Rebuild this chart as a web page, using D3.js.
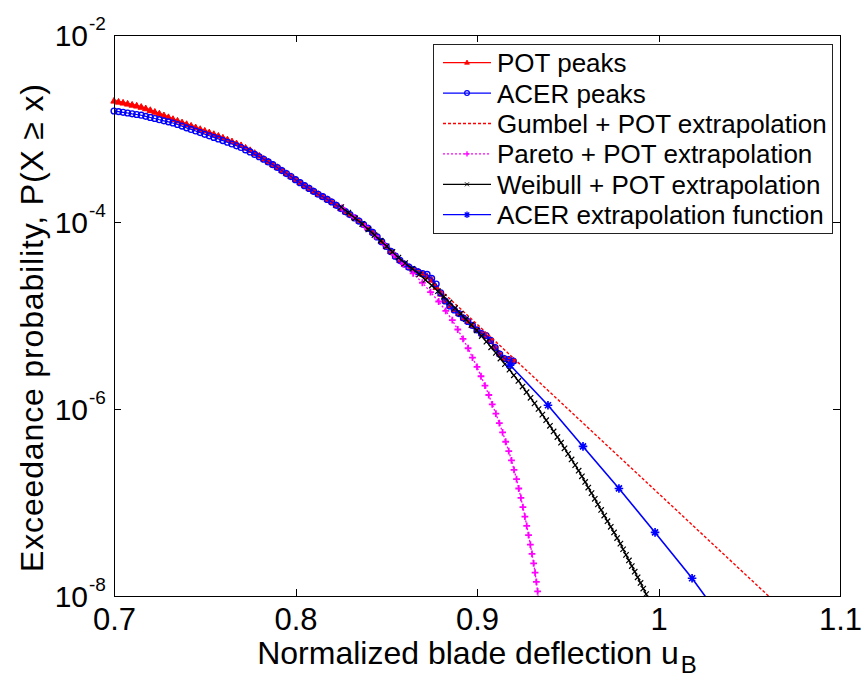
<!DOCTYPE html>
<html>
<head>
<meta charset="utf-8">
<script src="https://d3js.org/d3.v7.min.js"></script>
<style>
  body { margin: 0; background: #fff; }
  svg text { font-family: "Liberation Sans", Arial, Helvetica, sans-serif; fill: #000; }
  .axis path, .axis line { fill: none; stroke: #000; shape-rendering: crispEdges; }
</style>
</head>
<body>
<script>
// ---- data (probabilities stored as log10 values) ----
var uPeaks = [0.7000,0.7025,0.7050,0.7075,0.7100,0.7125,0.7150,0.7175,0.7200,0.7225,
  0.7250,0.7275,0.7300,0.7325,0.7350,0.7375,0.7400,0.7425,0.7450,0.7475,
  0.7500,0.7525,0.7550,0.7575,0.7600,0.7625,0.7650,0.7675,0.7700,0.7725,
  0.7750,0.7775,0.7800,0.7825,0.7850,0.7875,0.7900,0.7925,0.7950,0.7975,
  0.8000,0.8025,0.8050,0.8075,0.8100,0.8125,0.8150,0.8175,0.8200,0.8225,
  0.8250,0.8275,0.8300,0.8325,0.8350,0.8375,0.8400,0.8425,0.8450,0.8475,
  0.8500,0.8525,0.8550,0.8575,0.8600,0.8625,0.8650,0.8675,0.8700,0.8725,
  0.8750,0.8775,0.8800,0.8825,0.8850,0.8875,0.8900,0.8925,0.8950,0.8975,
  0.9000,0.9025,0.9050,0.9075,0.9100,0.9125,0.9150,0.9175,0.9200];

var potLog = [-2.706,-2.717,-2.727,-2.738,-2.749,-2.759,-2.772,-2.788,-2.806,-2.825,
  -2.843,-2.862,-2.882,-2.902,-2.920,-2.938,-2.956,-2.973,-2.991,-3.009,
  -3.027,-3.045,-3.063,-3.081,-3.101,-3.121,-3.141,-3.162,-3.182,-3.209,
  -3.235,-3.265,-3.294,-3.327,-3.357,-3.386,-3.416,-3.449,-3.481,-3.513,
  -3.547,-3.579,-3.611,-3.641,-3.672,-3.703,-3.729,-3.759,-3.786,-3.822,
  -3.856,-3.890,-3.921,-3.955,-3.990,-4.028,-4.068,-4.112,-4.160,-4.210,
  -4.262,-4.315,-4.365,-4.410,-4.450,-4.483,-4.510,-4.533,-4.558,-4.585,
  -4.620,-4.700,-4.770,-4.845,-4.898,-4.941,-4.979,-5.027,-5.064,-5.107,
  -5.155,-5.193,-5.225,-5.267,-5.342,-5.412,-5.460,-5.471,-5.487];

var acerLog = [-2.813,-2.819,-2.827,-2.834,-2.843,-2.850,-2.858,-2.870,-2.882,-2.893,
  -2.906,-2.918,-2.929,-2.941,-2.957,-2.974,-2.993,-3.010,-3.027,-3.044,
  -3.062,-3.078,-3.095,-3.112,-3.129,-3.147,-3.166,-3.185,-3.203,-3.229,
  -3.251,-3.277,-3.302,-3.329,-3.358,-3.387,-3.417,-3.450,-3.482,-3.514,
  -3.547,-3.579,-3.611,-3.641,-3.672,-3.703,-3.729,-3.759,-3.786,-3.822,
  -3.856,-3.890,-3.921,-3.955,-3.990,-4.028,-4.068,-4.112,-4.160,-4.210,
  -4.262,-4.315,-4.365,-4.410,-4.450,-4.483,-4.510,-4.533,-4.551,-4.561,
  -4.604,-4.663,-4.759,-4.845,-4.898,-4.941,-4.979,-5.027,-5.064,-5.107,
  -5.155,-5.193,-5.214,-5.267,-5.342,-5.412,-5.460,-5.471,-5.487];

var gumbelU = [0.87,0.88,0.89,0.90,0.91,0.92,0.93,0.94,0.95,0.96,0.97,
  0.98,0.99,1.00,1.01,1.02,1.03,1.04,1.05,1.06,1.07];
var gumbelLog = [-4.550,-4.731,-4.912,-5.093,-5.274,-5.455,-5.636,-5.817,-5.998,-6.179,-6.360,
  -6.541,-6.722,-6.903,-7.084,-7.265,-7.446,-7.627,-7.808,-7.989,-8.170];

var paretoU = [0.8257,0.8323,0.8384,0.8441,0.8494,0.8543,0.8593,0.8648,0.8699,0.8744,
  0.8789,0.8828,0.8864,0.8894,0.8923,0.8951,0.8975,0.9000,0.9022,0.9044,
  0.9065,0.9084,0.9104,0.9123,0.9141,0.9158,0.9175,0.9190,0.9204,0.9218,
  0.9230,0.9242,0.9253,0.9264,0.9274,0.9284,0.9294,0.9303,0.9312,0.9320,
  0.9327,0.9334,0.9339];
var paretoLog = [-3.85,-3.95,-4.05,-4.15,-4.25,-4.35,-4.45,-4.55,-4.65,-4.75,
  -4.85,-4.95,-5.05,-5.15,-5.25,-5.35,-5.45,-5.55,-5.65,-5.75,
  -5.85,-5.95,-6.05,-6.15,-6.25,-6.35,-6.45,-6.55,-6.65,-6.75,
  -6.85,-6.95,-7.05,-7.15,-7.25,-7.35,-7.45,-7.55,-7.65,-7.75,
  -7.85,-7.95,-8.05];

var weibullU = [0.8252,0.8291,0.8329,0.8367,0.8401,0.8435,0.8469,0.8502,0.8534,0.8567,
  0.8604,0.8643,0.8682,0.8716,0.8751,0.8785,0.8817,0.8848,0.8879,0.8910,
  0.8939,0.8969,0.8998,0.9026,0.9052,0.9078,0.9104,0.9129,0.9154,0.9179,
  0.9203,0.9228,0.9251,0.9273,0.9295,0.9317,0.9339,0.9360,0.9381,0.9402,
  0.9422,0.9443,0.9463,0.9482,0.9502,0.9521,0.9541,0.9560,0.9578,0.9596,
  0.9613,0.9631,0.9649,0.9666,0.9684,0.9701,0.9719,0.9737,0.9755,0.9772,
  0.9790,0.9805,0.9821,0.9837,0.9853,0.9869,0.9885,0.9901,0.9916,0.9932,
  0.9948];
var weibullLog = [-3.84,-3.90,-3.96,-4.02,-4.08,-4.14,-4.20,-4.26,-4.32,-4.38,
  -4.44,-4.50,-4.56,-4.62,-4.68,-4.74,-4.80,-4.86,-4.92,-4.98,
  -5.04,-5.10,-5.16,-5.22,-5.28,-5.34,-5.40,-5.46,-5.52,-5.58,
  -5.64,-5.70,-5.76,-5.82,-5.88,-5.94,-6.00,-6.06,-6.12,-6.18,
  -6.24,-6.30,-6.36,-6.42,-6.48,-6.54,-6.60,-6.66,-6.72,-6.78,
  -6.84,-6.90,-6.96,-7.02,-7.08,-7.14,-7.20,-7.26,-7.32,-7.38,
  -7.44,-7.50,-7.56,-7.62,-7.68,-7.74,-7.80,-7.86,-7.92,-7.98,
  -8.04];

var acerExtU = [0.9182,0.9391,0.9584,0.9782,0.9981,1.0185,1.0380];
var acerExtLog = [-5.53,-5.96,-6.40,-6.85,-7.32,-7.81,-8.33];

var xTicks = [0.7, 0.8, 0.9, 1.0, 1.1];
var xTickLabels = ["0.7", "0.8", "0.9", "1", "1.1"];
var yTicks = [1e-8, 1e-6, 1e-4, 1e-2];
var yTickExps = ["-8", "-6", "-4", "-2"];

var legendNames = ["POT peaks", "ACER peaks", "Gumbel + POT extrapolation",
  "Pareto + POT extrapolation", "Weibull + POT extrapolation", "ACER extrapolation function"];

// ---- layout ----
var width = 863, height = 682;
var plotLeft = 114, plotRight = 840, plotTop = 35, plotBottom = 596;

var xScale = d3.scaleLinear().domain([0.7, 1.1]).range([plotLeft, plotRight]);
var yScale = d3.scaleLog().domain([1e-8, 1e-2]).range([plotBottom, plotTop]);

function toPts(us, logs) {
  return d3.zip(us, logs).map(function(d) { return [d[0], Math.pow(10, d[1])]; });
}
var potPts = toPts(uPeaks, potLog);
var acerPts = toPts(uPeaks, acerLog);
var gumbelPts = toPts(gumbelU, gumbelLog);
var paretoPts = toPts(paretoU, paretoLog);
var weibullPts = toPts(weibullU, weibullLog);
var acerExtPts = toPts(acerExtU, acerExtLog);

var svg = d3.select("body").append("svg")
  .attr("width", width)
  .attr("height", height);

svg.append("rect").attr("width", width).attr("height", height).attr("fill", "#fff");

svg.append("clipPath").attr("id", "plotclip")
  .append("rect")
  .attr("x", plotLeft).attr("y", plotTop)
  .attr("width", plotRight - plotLeft).attr("height", plotBottom - plotTop);

var line = d3.line()
  .x(function(d) { return xScale(d[0]); })
  .y(function(d) { return yScale(d[1]); });

// marker shapes (MATLAB style ^ + x *)
var markerPath = {
  tri: "M0,-3.6L3.2,2.1L-3.2,2.1Z",
  plus: "M-3.4,0H3.4M0,-3.4V3.4",
  cross: "M-2.7,-2.7L2.7,2.7M-2.7,2.7L2.7,-2.7",
  star: "M-4.3,0H4.3M0,-4.3V4.3M-3,-3L3,3M-3,3L3,-3"
};
var markerWidth = {tri: 1, plus: 1.8, cross: 1.2, star: 1.7};

var inside = function(d) { return d[1] >= 1e-8 && d[0] <= 1.1; };

var lines = svg.append("g");

function drawSeries(pts, color, dash, width, marker) {
  lines.append("path")
    .datum(pts)
    .attr("clip-path", "url(#plotclip)")
    .attr("d", line)
    .attr("fill", "none")
    .attr("stroke", color)
    .attr("stroke-width", width)
    .attr("stroke-dasharray", dash);
  // markers on top of this series' line
  var g = lines.append("g");
  if (marker === "circle") {
    g.selectAll("circle").data(pts.filter(inside)).enter().append("circle")
      .attr("cx", function(d) { return xScale(d[0]); })
      .attr("cy", function(d) { return yScale(d[1]); })
      .attr("r", 2.9)
      .attr("fill", "none")
      .attr("stroke", color)
      .attr("stroke-width", 1.4);
  } else if (marker) {
    g.selectAll("path").data(pts.filter(inside)).enter().append("path")
      .attr("transform", function(d) { return "translate(" + xScale(d[0]) + "," + yScale(d[1]) + ")"; })
      .attr("d", markerPath[marker])
      .attr("fill", marker === "tri" ? color : "none")
      .attr("stroke", color)
      .attr("stroke-width", markerWidth[marker]);
  }
}

drawSeries(potPts, "#ff0000", null, 2.5, "tri");
drawSeries(acerPts, "#0000ff", null, 1.2, "circle");
drawSeries(gumbelPts, "#ff0000", "3,2", 1.4, null);
drawSeries(paretoPts, "#ff00ff", "2,2", 1.3, "plus");
drawSeries(weibullPts, "#000000", null, 1.3, "cross");
drawSeries(acerExtPts, "#0000ff", null, 1.6, "star");

// ---- axes ----
svg.append("g").attr("class", "axis x")
  .attr("transform", "translate(0," + plotBottom + ")")
  .call(d3.axisBottom(xScale).tickValues(xTicks).tickSizeInner(-7).tickSizeOuter(0)
    .tickPadding(12).tickFormat(function(d, i) { return xTickLabels[i]; }))
  .selectAll("text").attr("font-size", 31);

svg.append("g").attr("class", "axis")
  .attr("transform", "translate(0," + plotTop + ")")
  .call(d3.axisTop(xScale).tickValues(xTicks).tickSizeInner(-7).tickSizeOuter(0).tickFormat(""));

svg.append("g").attr("class", "axis y")
  .attr("transform", "translate(" + plotLeft + ",0)")
  .call(d3.axisLeft(yScale).tickValues(yTicks).tickSizeInner(-7).tickSizeOuter(0).tickFormat(""));

svg.append("g").attr("class", "axis")
  .attr("transform", "translate(" + plotRight + ",0)")
  .call(d3.axisRight(yScale).tickValues(yTicks).tickSizeInner(-7).tickSizeOuter(0).tickFormat(""));

// y tick labels as 10^n
var yLab = svg.append("g");
yTicks.forEach(function(t, i) {
  var yy = yScale(t);
  yLab.append("text")
    .attr("x", plotLeft - 26).attr("y", yy + 11)
    .attr("text-anchor", "end")
    .attr("font-size", 30)
    .text("10");
  yLab.append("text")
    .attr("x", plotLeft - 25).attr("y", yy - 5)
    .attr("font-size", 19)
    .text(yTickExps[i]);
});

// axis labels
var xLabel = svg.append("text")
  .attr("x", (plotLeft + plotRight) / 2)
  .attr("y", 664)
  .attr("text-anchor", "middle")
  .attr("font-size", 32);
xLabel.append("tspan").text("Normalized blade deflection u");
xLabel.append("tspan").attr("font-size", 24).attr("dx", 2).attr("dy", 9).text("B");

svg.append("text")
  .attr("transform", "translate(43,328)rotate(-90)")
  .attr("text-anchor", "middle")
  .attr("font-size", 32)
  .attr("textLength", 488)
  .attr("lengthAdjust", "spacing")
  .text("Exceedance probability, P(X \u2265 x)");

// ---- legend ----
var legX = 433, legY = 44, legW = 399, legH = 189;
var legend = svg.append("g");
legend.append("rect")
  .attr("x", legX + 0.5).attr("y", legY + 0.5)
  .attr("width", legW).attr("height", legH)
  .attr("fill", "#fff").attr("stroke", "#222").attr("stroke-width", 1);

var legStyle = [
  {color: "#ff0000", dash: null, marker: "tri"},
  {color: "#0000ff", dash: null, marker: "circle"},
  {color: "#ff0000", dash: "3,2", marker: null},
  {color: "#ff00ff", dash: "2,2", marker: "plus"},
  {color: "#000000", dash: null, marker: "cross"},
  {color: "#0000ff", dash: null, marker: "star"}
];

legendNames.forEach(function(name, i) {
  var cy = 62.7 + i * 30.4;
  var s = legStyle[i];
  legend.append("line")
    .attr("x1", 443).attr("x2", 491).attr("y1", cy).attr("y2", cy)
    .attr("stroke", s.color).attr("stroke-width", 1.3)
    .attr("stroke-dasharray", s.dash);
  if (s.marker === "circle") {
    legend.append("circle").attr("cx", 467).attr("cy", cy).attr("r", 2.4)
      .attr("fill", "none").attr("stroke", s.color).attr("stroke-width", 1.2);
  } else if (s.marker) {
    legend.append("path")
      .attr("transform", "translate(467," + cy + ") scale(0.75)")
      .attr("d", markerPath[s.marker])
      .attr("fill", s.marker === "tri" ? s.color : "none")
      .attr("stroke", s.color)
      .attr("stroke-width", markerWidth[s.marker]);
  }
  legend.append("text")
    .attr("x", 497).attr("y", cy + 9.5)
    .attr("font-size", 26)
    .text(name);
});
</script>
</body>
</html>
